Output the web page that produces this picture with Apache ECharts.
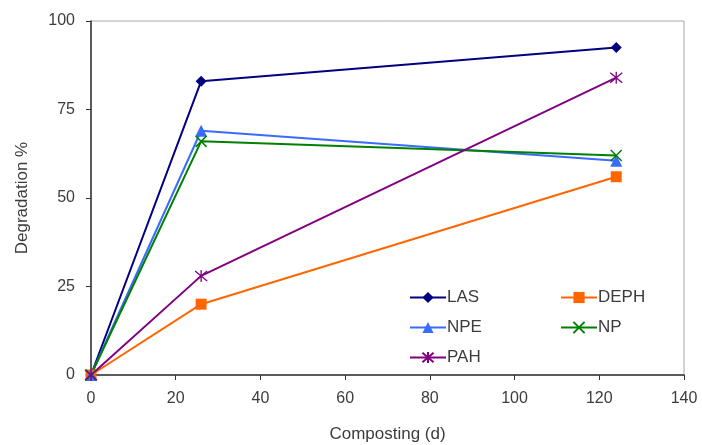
<!DOCTYPE html>
<html><head><meta charset="utf-8">
<script src="https://cdn.jsdelivr.net/npm/echarts@6/dist/echarts.min.js"></script>
<style>html,body{margin:0;padding:0;background:#fff}#c{width:702px;height:445px}</style>
</head><body><div id="c"></div>
<script>
const days = [0, 26, 124];
const LAS  = [0, 83, 92.5];
const DEPH = [0, 20, 56];
const NPE  = [0, 69, 60.5];
const NP   = [0, 66, 62];
const PAH  = [0, 28, 84];
const xTicks = [0, 20, 40, 60, 80, 100, 120, 140];
const yTicks = [0, 25, 50, 75, 100];

const crossPath = 'path://M0,0L10,10M10,0L0,10';
const starPath = 'path://M0,0L10,10M10,0L0,10M5,-1L5,11';
const txt = '#3c3c3c';
const ff = 'Liberation Sans';
function ser(name, data, color, symbol, size, extra) {
  return Object.assign({
    name, type: 'line', data: data.map((v, i) => [days[i], v]),
    lineStyle: { color, width: 2 },
    itemStyle: { color, borderColor: color, borderWidth: 0 },
    symbol, symbolSize: size, showSymbol: true, clip: false,
    emphasis: { disabled: true }, animation: false
  }, extra || {});
}
const chart = echarts.init(document.getElementById('c'));
chart.setOption({
  animation: false,
  grid: { left: 91, right: 18, top: 21, bottom: 70, show: true, borderColor: '#a8a8a8', borderWidth: 1,
          containLabel: false, outerBoundsMode: 'none' },
  xAxis: {
    type: 'value', min: xTicks[0], max: xTicks[xTicks.length - 1], interval: 20,
    name: 'Composting (d)', nameLocation: 'middle', nameGap: 51,
    nameTextStyle: { color: txt, fontSize: 17, fontFamily: ff },
    axisLine: { lineStyle: { color: '#333', width: 1.5 } },
    axisTick: { show: true, inside: false, length: 5, lineStyle: { color: '#333' } },
    axisLabel: { color: txt, fontSize: 16, fontFamily: ff, margin: 16 },
    splitLine: { show: false }
  },
  yAxis: {
    type: 'value', min: yTicks[0], max: yTicks[yTicks.length - 1], interval: 25,
    name: 'Degradation %', nameLocation: 'middle', nameGap: 60,
    nameTextStyle: { color: txt, fontSize: 17, fontFamily: ff },
    axisLine: { show: true, lineStyle: { color: '#333', width: 1.5 } },
    axisTick: { show: true, inside: false, length: 5, lineStyle: { color: '#333' } },
    axisLabel: { color: txt, fontSize: 16, fontFamily: ff, margin: 16 },
    splitLine: { show: false }
  },
  legend: [
    { data: ['LAS', 'NPE', 'PAH'], orient: 'vertical', left: 404, top: 284, itemGap: 13, itemWidth: 36, itemHeight: 14,
      textStyle: { color: txt, fontSize: 17, fontFamily: ff, padding: [0, 0, 0, -4] } },
    { data: ['DEPH', 'NP'], orient: 'vertical', left: 555, top: 284, itemGap: 13, itemWidth: 36, itemHeight: 14,
      textStyle: { color: txt, fontSize: 17, fontFamily: ff, padding: [0, 0, 0, -4] } }
  ],
  series: [
    ser('LAS', LAS, '#000080', 'diamond', 11),
    ser('DEPH', DEPH, '#ff6600', 'rect', 11),
    ser('NPE', NPE, '#3a6bff', 'triangle', 12),
    ser('NP', NP, '#008000', crossPath, 11, { itemStyle: { color: '#008000', borderColor: '#008000', borderWidth: 1.5 } }),
    ser('PAH', PAH, '#800080', starPath, 12, { itemStyle: { color: '#800080', borderColor: '#800080', borderWidth: 1.3 } })
  ]
});
</script></body></html>
